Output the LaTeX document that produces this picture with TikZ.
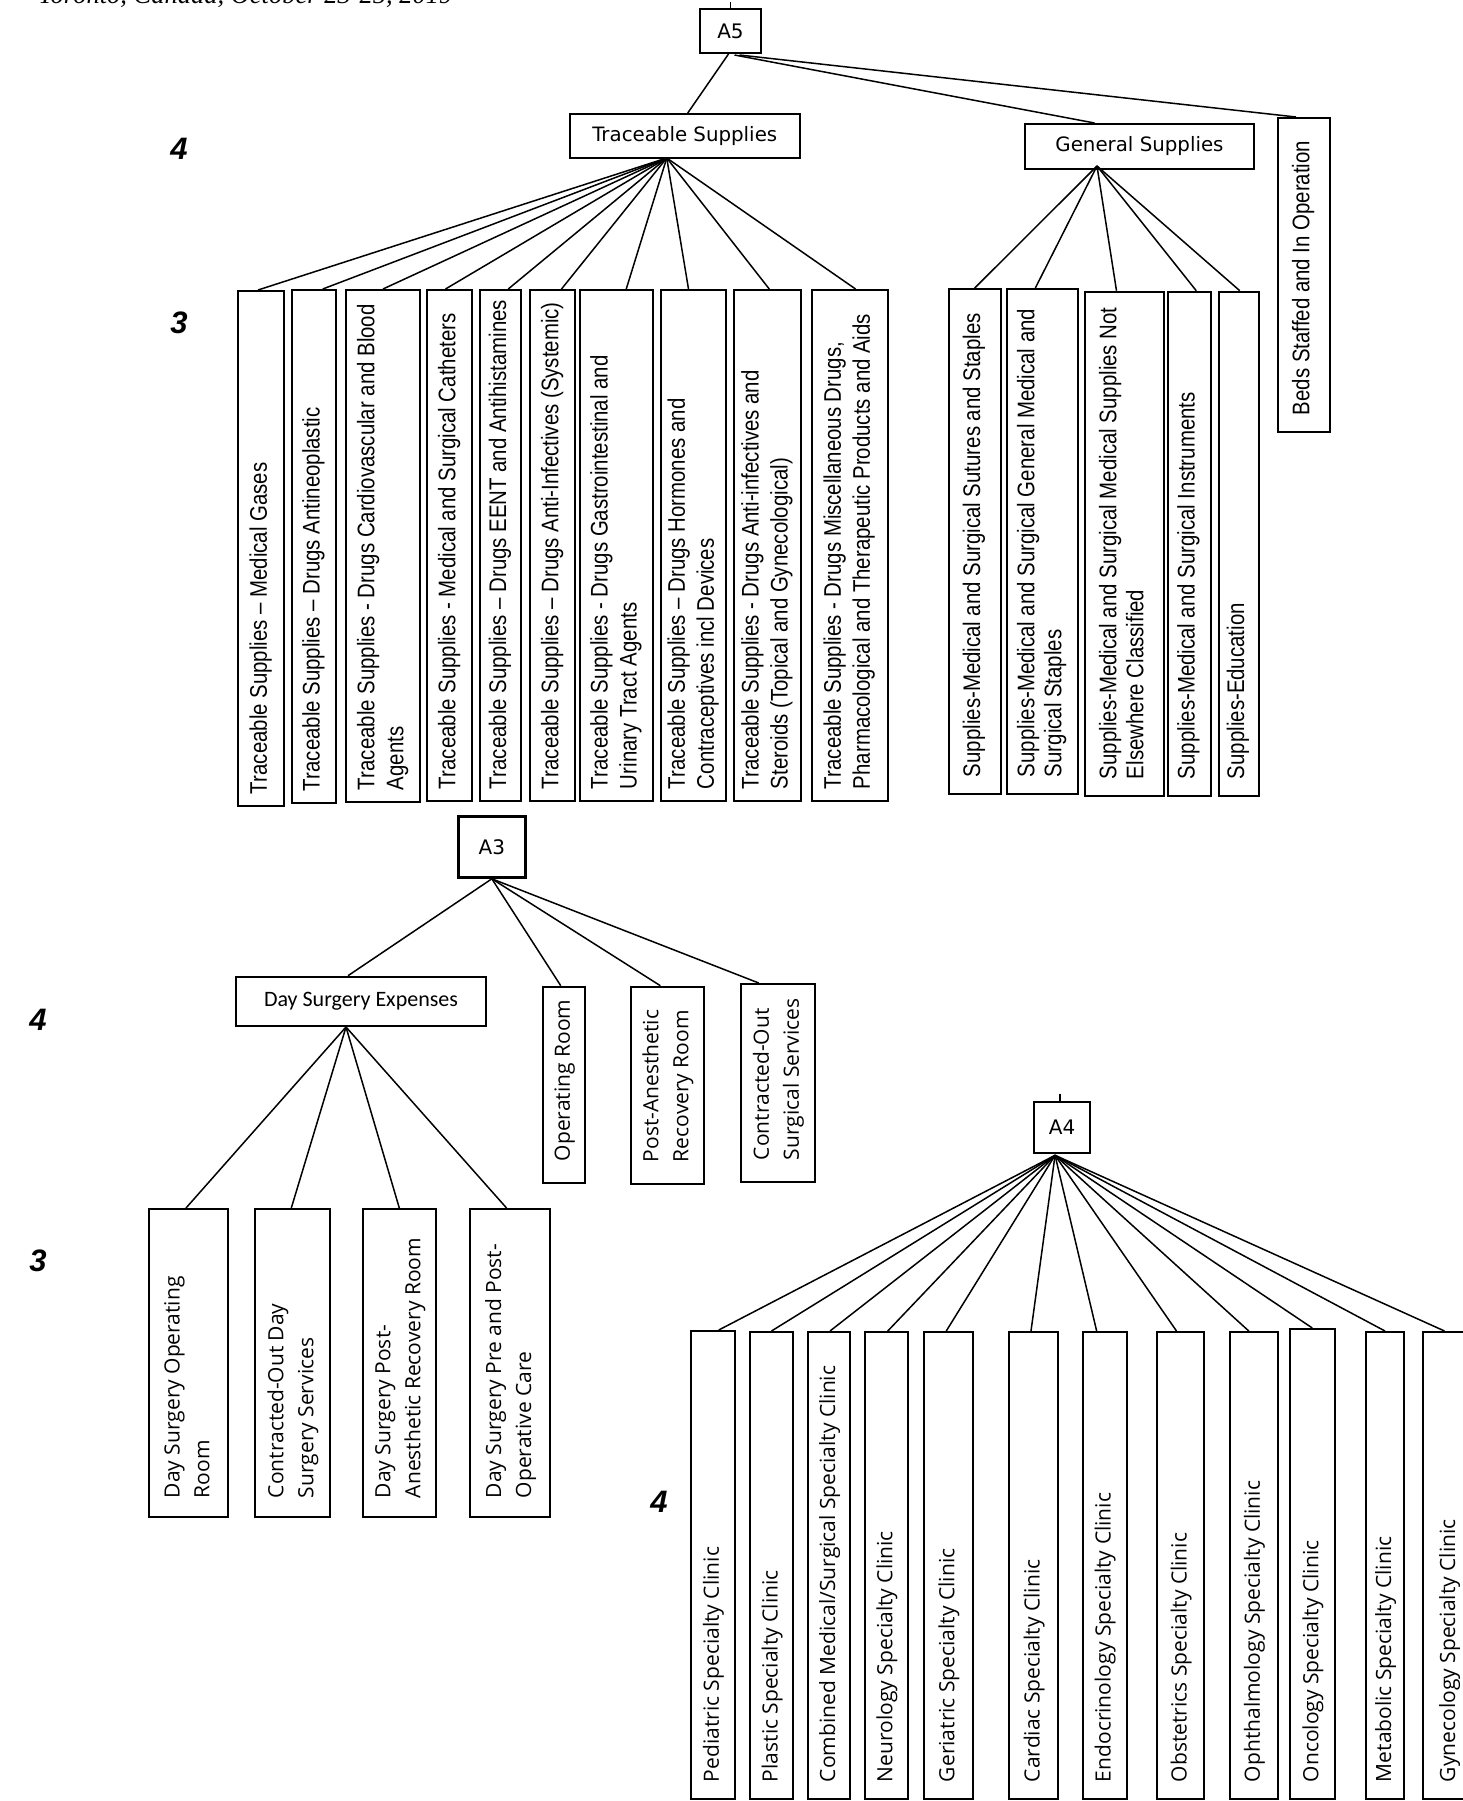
\documentclass[tikz,border=0pt]{standalone}
\usepackage{fontspec}
\setmainfont{Liberation Sans}
\newfontfamily\narrowf[FakeStretch=0.85]{Liberation Sans}
\newfontfamily\opensf{Open Sans}
\newfontfamily\dejaf{DejaVu Sans}
\newfontfamily\carlf{Carlito}
\newfontfamily\serifit{Liberation Serif}
\usetikzlibrary{calc}
\tikzset{
  boxline/.style={draw=black, line width=1pt},
  hrect/.style={boxline, inner sep=0pt, align=center},
  vrect/.style={boxline, rotate=90, inner xsep=0pt, inner ysep=1pt},
  conn/.style={draw=black, line width=0.75pt},
  tvfont/.style={font=\narrowf\fontsize{12}{14.5}\selectfont},
  gvfont/.style={font=\narrowf\fontsize{12}{13.5}\selectfont},
  ovfont/.style={font=\opensf\fontsize{10.5}{15}\selectfont},
  lvl/.style={font=\bfseries\itshape\fontsize{15.5}{18}\selectfont, inner sep=0pt},
}
% [style]{name}{x1}{x2}{ytop}{ybot}{text}  (vertical box, text bottom-to-top)
\newcommand\vbx[7][]{%
  \pgfmathsetmacro\cxx{(#3+#4)/2}%
  \pgfmathsetmacro\cyy{(#5+#6)/2}%
  \pgfmathsetmacro\bww{(#4-#3)/2}%
  \pgfmathsetmacro\bll{(#6-#5)/2}%
  \pgfmathsetmacro\tww{\bll-2*\vpad}%
  \node[vrect,#1,minimum width=\bll pt,minimum height=\bww pt] (#2) at (\cxx,\cyy)
    {\makebox[\tww pt][l]{\begin{tabular}{@{}l@{}}#7\end{tabular}}};}
% [style]{name}{x1}{x2}{ytop}{ybot}{text}  (horizontal box)
\newcommand\hbx[7][]{%
  \pgfmathsetmacro\cxx{(#3+#4)/2}%
  \pgfmathsetmacro\cyy{(#5+#6)/2}%
  \pgfmathsetmacro\bww{(#4-#3)/2}%
  \pgfmathsetmacro\bhh{(#6-#5)/2}%
  \node[hrect,#1,minimum width=\bww pt,minimum height=\bhh pt] (#2) at (\cxx,\cyy) {#7};}
\begin{document}
\begin{tikzpicture}[x=0.5pt,y=-0.5pt]
\useasboundingbox (0,0) rectangle (1463,1801);

\node[font=\serifit\itshape\fontsize{13.25}{15}\selectfont, anchor=base west, inner sep=0pt] (hdr) at (38,3) {Toronto, Canada, October 23-25, 2019};

% level numbers
\node[lvl] (l4a) at (179,149) {4};
\node[lvl] (l3a) at (179,323) {3};
\node[lvl] (l4b) at (38,1020) {4};
\node[lvl] (l3b) at (38,1261) {3};
\node[lvl] (l4c) at (659,1502) {4};

% ---------------- A5 tree ----------------
\hbx[font=\dejaf\fontsize{10}{12}\selectfont]{a5}{700}{761}{9}{53}{A5}
\hbx[font=\dejaf\fontsize{9.9}{12}\selectfont]{ts}{569.5}{800}{114}{158}{Traceable Supplies}
\hbx[font=\dejaf\fontsize{9.9}{12}\selectfont]{gs}{1025}{1254}{124}{169}{General Supplies}

\def\vpad{6}
\vbx[tvfont]{t1}{238}{284}{291}{806}{Traceable Supplies – Medical Gases}
\vbx[tvfont]{t2}{291.5}{336}{290}{803}{Traceable Supplies – Drugs Antineoplastic}
\vbx[tvfont]{t3}{346}{420}{290}{802}{Traceable Supplies - Drugs Cardiovascular and Blood\\Agents}
\vbx[tvfont]{t4}{427}{472}{290}{801}{Traceable Supplies - Medical and Surgical Catheters}
\vbx[tvfont]{t5}{480}{520.5}{290}{801}{Traceable Supplies – Drugs EENT and Antihistamines}
\vbx[tvfont]{t6}{530}{575}{290}{801}{Traceable Supplies – Drugs Anti-Infectives (Systemic)}
\vbx[tvfont]{t7}{579.5}{653}{290}{801}{Traceable Supplies - Drugs Gastrointestinal and\\Urinary Tract Agents}
\vbx[tvfont]{t8}{661}{726}{290}{801}{Traceable Supplies – Drugs Hormones and\\Contraceptives incl Devices}
\vbx[tvfont]{t9}{733.5}{801}{290}{801}{Traceable Supplies - Drugs Anti-infectives and\\Steroids (Topical and Gynecological)}
\vbx[tvfont]{t10}{811.6}{887.5}{290}{801}{Traceable Supplies - Drugs Miscellaneous Drugs,\\Pharmacological and Therapeutic Products and Aids}

\def\vpad{8.5}
\vbx[gvfont]{g1}{949}{1000.5}{289}{794}{Supplies-Medical and Surgical Sutures and Staples}
\vbx[gvfont]{g2}{1007}{1077.7}{289}{794}{Supplies-Medical and Surgical General Medical and\\Surgical Staples}
\vbx[gvfont]{g3}{1085}{1164}{291.7}{796}{Supplies-Medical and Surgical Medical Supplies Not\\Elsewhere Classified}
\vbx[gvfont]{g4}{1167.5}{1211}{291.7}{796}{Supplies-Medical and Surgical Instruments}
\vbx[gvfont]{g5}{1218.5}{1259}{291.7}{796}{Supplies-Education}
\vbx[gvfont]{beds}{1278}{1330}{118}{432}{Beds Staffed and In Operation}

\coordinate (a5t) at ($(a5.north)+(0,-6)$);
\draw[conn] (a5t) -- (a5.north);
\draw[conn] ($(a5.south)+(-2,0)$) -- ($(ts.north)+(3,0)$);
\draw[conn] ($(a5.south)+(4,1)$) -- ($(gs.north)+(-45,0)$);
\draw[conn] ($(a5.south)+(9,1)$) -- ($(beds.east)+(-8,0)$);

\coordinate (tsf) at ($(ts.south)+(-18,-1)$);
\foreach \n/\d in {t1/-3,t2/9,t3/0,t4/-4,t5/8,t6/9,t7/10,t8/-5,t9/2,t10/6}
  \draw[conn] (tsf) -- ($(\n.east)+(\d,0)$);

\coordinate (gsf) at ($(gs.south)+(-42.5,-4)$);
\foreach \n/\d in {g1/0,g2/-7,g3/-8,g4/7,g5/1}
  \draw[conn] (gsf) -- ($(\n.east)+(\d,0)$);

% ---------------- A3 tree ----------------
\hbx[font=\dejaf\fontsize{10}{12}\selectfont, line width=1.5pt]{a3}{458.7}{525}{816.7}{877.3}{A3}
\hbx[font=\carlf\fontsize{11}{13}\selectfont]{dse}{235.7}{486.3}{976.7}{1026}{Day Surgery Expenses}

\def\vpad{11}
\vbx[ovfont]{op}{542.5}{585}{986.7}{1183}{Operating Room}
\vbx[ovfont]{pa}{630.7}{704}{986.7}{1184}{Post-Anesthetic\\Recovery Room}
\vbx[ovfont]{co}{741}{814.5}{984}{1182}{Contracted-Out\\Surgical Services}

\def\vpad{9.5}
\vbx[ovfont]{d1}{149}{228}{1209}{1517}{Day Surgery Operating\\Room}
\vbx[ovfont]{d2}{255}{329.6}{1209}{1517}{Contracted-Out Day\\Surgery Services}
\vbx[ovfont]{d3}{363}{435.6}{1209}{1517}{Day Surgery Post-\\Anesthetic Recovery Room}
\vbx[ovfont]{d4}{469.7}{550.4}{1209}{1517}{Day Surgery Pre and Post-\\Operative Care}

\draw[conn] (a3.south) -- ($(dse.north)+(-13,0)$);
\draw[conn] (a3.south) -- ($(op.east)+(-3,0)$);
\draw[conn] (a3.south) -- ($(pa.east)+(-7,0)$);
\draw[conn] (a3.south) -- ($(co.east)+(-19,0)$);

\coordinate (dsf) at ($(dse.south)+(-15,0)$);
\foreach \n/\d in {d1/-2.5,d2/-1,d3/0,d4/-3.5}
  \draw[conn] (dsf) -- ($(\n.east)+(\d,0)$);

% ---------------- A4 tree ----------------
\hbx[font=\dejaf\fontsize{10}{12}\selectfont]{a4}{1033.7}{1090.4}{1101.7}{1153.3}{A4}
\coordinate (a4t) at ($(a4.north)+(-2,-7)$);
\draw[conn] (a4t) -- ($(a4.north)+(-2,0)$);

\def\vpad{8.5}
\vbx[ovfont]{c1}{691}{734.5}{1331}{1799}{Pediatric Specialty Clinic}
\vbx[ovfont]{c2}{750}{793}{1332}{1799}{Plastic Specialty Clinic}
\vbx[ovfont]{c3}{808}{850}{1332}{1799}{Combined Medical/Surgical Specialty Clinic}
\vbx[ovfont]{c4}{864.7}{907.8}{1332}{1799}{Neurology Specialty Clinic}
\vbx[ovfont]{c5}{923.5}{973}{1332}{1799}{Geriatric Specialty Clinic}
\vbx[ovfont]{c6}{1009}{1058}{1332}{1799}{Cardiac Specialty Clinic}
\vbx[ovfont]{c7}{1082.6}{1126.7}{1332}{1799}{Endocrinology Specialty Clinic}
\vbx[ovfont]{c8}{1157}{1204}{1332}{1799}{Obstetrics Specialty Clinic}
\vbx[ovfont]{c9}{1229.6}{1278}{1332}{1799}{Ophthalmology Specialty Clinic}
\vbx[ovfont]{c10}{1290}{1334.6}{1329}{1799}{Oncology Specialty Clinic}
\vbx[ovfont]{c11}{1366}{1404}{1332}{1799}{Metabolic Specialty Clinic}
\vbx[ovfont]{c12}{1423}{1475}{1332}{1799}{Gynecology Specialty Clinic}

\coordinate (a4f) at ($(a4.south)+(-7,1)$);
\foreach \n/\d in {c1/6,c2/0,c3/1,c4/1.5,c5/-2,c6/-2.5,c7/-8,c8/-4,c9/-5,c10/0,c11/0,c12/-4.5}
  \draw[conn] (a4f) -- ($(\n.east)+(\d,0)$);

\end{tikzpicture}
\end{document}
